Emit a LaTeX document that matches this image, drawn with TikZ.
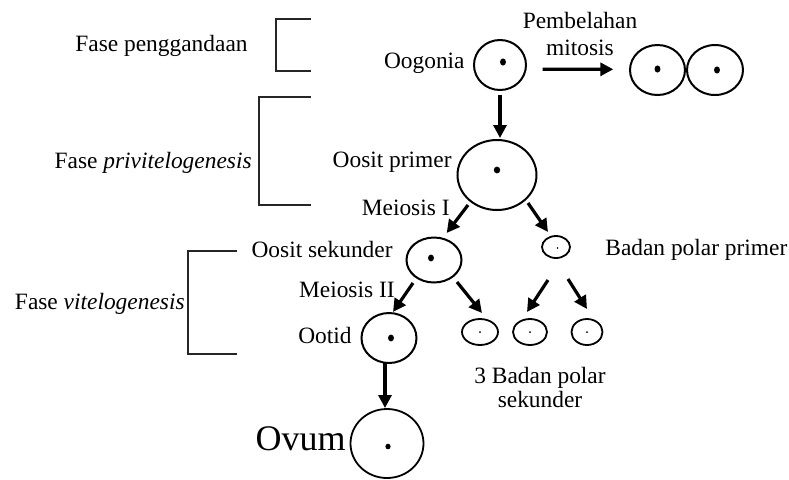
\documentclass[tikz,border=0pt]{standalone}
\usepackage{fontspec}
\setmainfont{Liberation Serif}
\usetikzlibrary{arrows.meta,shapes.geometric}
\begin{document}
\begin{tikzpicture}[x=0.5pt,y=-0.5pt,
  lbl/.style={inner sep=0pt, font=\fontsize{11.7}{13.3}\selectfont, text height=0.66em, text depth=0pt},
  mlbl/.style={inner sep=0pt, align=center, anchor=base},
  cell/.style={draw, ellipse, line width=1pt, inner sep=0pt},
  smallcell/.style={draw, ellipse, line width=0.9pt, inner sep=0pt},
  arr/.style={line width=1.6pt, -{Triangle[length=6.5pt,width=6.5pt]}},
  brk/.style={line width=0.55pt, draw=black!85},
]
\useasboundingbox (0,0) rectangle (789,479);

% cells
\node[cell, minimum width=26pt, minimum height=25pt] (oog) at (500,65) {};
\node[cell, minimum width=27.5pt, minimum height=25pt] (m1) at (657.5,70) {};
\node[cell, minimum width=28pt, minimum height=25pt] (m2) at (715,70) {};
\node[cell, minimum width=39.5pt, minimum height=35pt] (op) at (497,175) {};
\node[cell, minimum width=27.5pt, minimum height=22.5pt] (os) at (434,260) {};
\node[smallcell, minimum width=14pt, minimum height=11pt] (pp) at (556,247) {};
\node[cell, minimum width=27.5pt, minimum height=25pt] (ot) at (389,338) {};
\node[smallcell, minimum width=18pt, minimum height=13pt] (s1) at (480,332) {};
\node[smallcell, minimum width=17pt, minimum height=13pt] (s2) at (530,332) {};
\node[smallcell, minimum width=15.5pt, minimum height=13pt] (s3) at (587,332) {};
\node[cell, line width=0.9pt, minimum width=36.5pt, minimum height=34.5pt] (ov) at (387,443.5) {};

% nuclei
\fill ([shift={(3,-3)}]oog.center) ellipse [x radius=1.5pt, y radius=1.8pt];
\fill ([shift={(0,-1)}]m1.center) ellipse [x radius=1.5pt, y radius=1.8pt];
\fill ([shift={(2,0)}]m2.center) ellipse [x radius=1.5pt, y radius=1.8pt];
\fill ([shift={(0,-5)}]op.center) ellipse [x radius=1.6pt, y radius=1.7pt];
\fill ([shift={(-3,-2)}]os.center) ellipse [x radius=1.5pt, y radius=1.7pt];
\fill ([shift={(2,0)}]ot.center) ellipse [x radius=1.5pt, y radius=1.7pt];
\fill ([shift={(1,3)}]ov.center) ellipse [x radius=1.3pt, y radius=1.4pt];
\fill ([shift={(1.5,1)}]pp.center) circle [radius=0.45pt];
\fill (s1.center) circle [radius=0.5pt];
\fill (s2.center) circle [radius=0.5pt];
\fill (s3.center) circle [radius=0.5pt];

% arrows
\draw[arr] ([shift={(0,30)}]oog.center) -- ([shift={(3,-37)}]op.center);
\draw[arr] ([shift={(42.7,4.3)}]oog.center) -- ([shift={(-44.2,-0.7)}]m1.center);
\draw[arr] ([shift={(-29,30)}]op.center) -- ([shift={(12.7,-27)}]os.center);
\draw[arr] ([shift={(31,28)}]op.center) -- ([shift={(-8,-15)}]pp.center);
\draw[arr] ([shift={(-21,23)}]os.center) -- ([shift={(4,-26)}]ot.center);
\draw[arr] ([shift={(23,22)}]os.center) -- ([shift={(2,-19)}]s1.center);
\draw[arr] ([shift={(-8,33)}]pp.center) -- ([shift={(-3,-20)}]s2.center);
\draw[arr] ([shift={(12,32)}]pp.center) -- ([shift={(0,-23)}]s3.center);
\draw[arr] ([shift={(-4,25)}]ot.center) -- ([shift={(-2,-35.5)}]ov.center);

% brackets
\draw[brk] (311,19) -- (276,19) -- (276,71) -- (311,71);
\draw[brk] (311,97) -- (259,97) -- (259,205) -- (311,205);
\draw[brk] (237,251) -- (188,251) -- (188,354) -- (237,354);

% labels
\node[lbl, anchor=east] (fp) at (248,45) {Fase penggandaan};
\node[lbl, anchor=east] (fpr) at (252,161.5) {Fase \textit{privitelogenesis}};
\node[lbl, anchor=east] (fv) at (185,303) {Fase \textit{vitelogenesis}};
\node[lbl, anchor=east] (toog) at (465,61.5) {Oogonia};
\node[lbl, anchor=east] (top) at (452,160.5) {Oosit primer};
\node[lbl, anchor=east] (tm1) at (450,209) {Meiosis I};
\node[lbl, anchor=east] (tos) at (393,250.5) {Oosit sekunder};
\node[lbl, anchor=west] (tpp) at (605,249) {Badan polar primer};
\node[lbl, anchor=east] (tm2) at (395,290.5) {Meiosis II};
\node[lbl, anchor=east] (tot) at (352,336.5) {Ootid};
\node[lbl, anchor=east, font=\fontsize{18}{20}\selectfont] (tov) at (346,443.7) {Ovum};
\node[mlbl, font=\fontsize{11.7}{13.3}\selectfont] (tpm) at (580,55) {Pembelahan\\mitosis};
\node[mlbl, font=\fontsize{11.7}{12}\selectfont] (tbp) at (540,407) {3 Badan polar\\sekunder};
\end{tikzpicture}
\end{document}
